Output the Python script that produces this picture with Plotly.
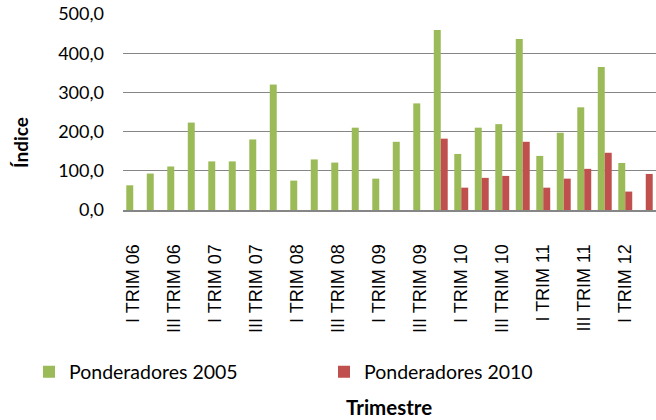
import plotly.graph_objects as go

categories = [f"{q} TRIM {y}" for y in ["06", "07", "08", "09", "10", "11"] for q in ["I", "II", "III", "IV"]] + ["I TRIM 12", "II TRIM 12"]

pond_2005 = [63, 93, 111, 223, 124, 124, 180, 320, 75, 129, 121, 210,
             80, 174, 272, 459, 143, 210, 219, 436, 138, 197, 262, 365, 120, None]
pond_2010 = [None] * 15 + [182, 57, 82, 87, 174, 57, 80, 105, 146, 47, 92]

tick_labels = categories[::2]
y_ticks = [0, 100, 200, 300, 400, 500]

W, H = 656, 420
L, R, T, B = 123, 0, 14, 210
pw, ph = W - L - R, H - T - B

def px_x(x):
    return (x - L) / pw

def px_y(y):
    return (H - B - y) / ph

fig = go.Figure()
fig.add_trace(go.Bar(x=categories, y=pond_2005, name="Ponderadores 2005",
                     marker=dict(color="#9BBB59", line=dict(width=0))))
fig.add_trace(go.Bar(x=categories, y=pond_2010, name="Ponderadores 2010",
                     marker=dict(color="#C0504D", line=dict(width=0))))

fig.update_layout(
    width=W, height=H,
    margin=dict(l=L, r=R, t=T, b=B, pad=0, autoexpand=False),
    paper_bgcolor="white", plot_bgcolor="white",
    barmode="group", bargap=0.32, bargroupgap=0,
    separators=",.",
    showlegend=True,
    legend=dict(orientation="h", x=px_x(29), xanchor="left", y=px_y(372), yanchor="middle",
                font=dict(family="Lato", size=19.5, color="#000000"),
                entrywidth=250, entrywidthmode="pixels", itemwidth=30,
                bgcolor="rgba(0,0,0,0)"),
    font=dict(family="Lato", color="#000000"),
)

fig.update_xaxes(
    type="category", tickmode="array", tickvals=tick_labels, ticktext=tick_labels,
    tickangle=-90, tickfont=dict(family="Liberation Sans", size=18, color="#000000"),
    showgrid=False, showline=True, linecolor="#868686", linewidth=2,
    ticks="", ticklabelstandoff=25, range=[-0.5, len(categories) - 0.5],
    automargin=False,
)
fig.update_yaxes(
    range=[0, 500], tickmode="array", tickvals=y_ticks, tickformat=".1f",
    tickfont=dict(family="Lato", size=18, color="#000000"),
    showgrid=True, gridcolor="#868686", gridwidth=1,
    zeroline=False, showline=False, ticks="", ticklabelstandoff=18,
    automargin=False,
)

fig.add_annotation(text="<b>Índice</b>", x=px_x(20), y=px_y(143), xref="paper", yref="paper",
                   xanchor="center", yanchor="middle",
                   textangle=-90, showarrow=False, font=dict(family="Lato", size=19, color="#000000"))
fig.add_annotation(text="<b>Trimestre</b>", x=px_x(389), y=px_y(407), xref="paper", yref="paper",
                   xanchor="center", yanchor="middle",
                   showarrow=False, font=dict(family="Lato", size=20.5, color="#000000"))

fig.write_html("out.html", config={"displayModeBar": False},
               post_script="document.body.style.margin='0';document.body.style.overflow='hidden';")
